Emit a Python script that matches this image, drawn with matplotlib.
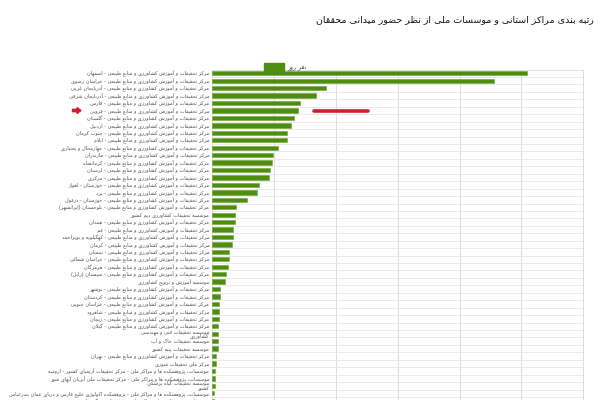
import matplotlib
matplotlib.use("Agg")
import matplotlib.pyplot as plt
from matplotlib.patches import Patch, FancyArrow

# ---------------------------------------------------------------- data
PREFIX = "مرکز تحقیقات و آموزش کشاورزی و منابع طبیعی - "
NATIONAL = "موسسات، پژوهشکده ها و مراکز ملی - "

centers = [
    PREFIX + "اصفهان",
    PREFIX + "خراسان رضوی",
    PREFIX + "آذربایجان غربی",
    PREFIX + "آذربایجان شرقی",
    PREFIX + "فارس",
    PREFIX + "قزوین",
    PREFIX + "گلستان",
    PREFIX + "اردبیل",
    PREFIX + "جنوب کرمان",
    PREFIX + "ایلام",
    PREFIX + "چهارمحال و بختیاری",
    PREFIX + "مازندران",
    PREFIX + "کرمانشاه",
    PREFIX + "لرستان",
    PREFIX + "مرکزی",
    PREFIX + "خوزستان - اهواز",
    PREFIX + "یزد",
    PREFIX + "خوزستان - دزفول",
    PREFIX + "بلوچستان (ایرانشهر)",
    "موسسه تحقیقات کشاورزی دیم کشور",
    PREFIX + "همدان",
    PREFIX + "قم",
    PREFIX + "کهگیلویه و بویراحمد",
    PREFIX + "کرمان",
    PREFIX + "سمنان",
    PREFIX + "خراسان شمالی",
    PREFIX + "هرمزگان",
    PREFIX + "سیستان (زابل)",
    "موسسه آموزش و ترویج کشاورزی",
    PREFIX + "بوشهر",
    PREFIX + "کردستان",
    PREFIX + "خراسان جنوبی",
    PREFIX + "شاهرود",
    PREFIX + "زنجان",
    PREFIX + "گیلان",
    "موسسه تحقیقات فنی و مهندسی\nکشاورزی",
    "موسسه تحقیقات خاک و آب",
    "موسسه تحقیقات پنبه کشور",
    PREFIX + "تهران",
    "مرکز ملی تحقیقات شوری",
    NATIONAL + "مرکز تحقیقات آرتمیای کشور - ارومیه",
    NATIONAL + "مرکز تحقیقات ملی آبزیان آبهای شور",
    "موسسه تحقیقات گیاه پزشکی\nکشور",
    NATIONAL + "پژوهشکده اکولوژی خلیج فارس و دریای عمان بندرعباس",
    NATIONAL + "پژوهشکده میگوی کشور - بوشهر",
]

person_days = [
    1018, 910, 368, 337, 283, 276, 264, 256, 243, 243,
    214, 195, 193, 187, 184, 150, 144, 112, 78, 74,
    72, 68, 66, 65, 55, 53, 52, 43, 41, 25,
    24, 21, 21, 21, 19, 19, 19, 17, 12, 11,
    10, 9, 8, 6, 4,
]

series_name = "نفر روز"
title = "رتبه بندی مراکز استانی و موسسات ملی از نظر حضور میدانی محققان"
highlight = PREFIX + "قزوین"

# ------------------------------------------------- Persian text shaping
# (isolated, final, initial, medial); right-joining letters have no
# initial/medial forms.
FORMS = {
    "\u0627": ("\uFE8D", "\uFE8E", None, None),
    "\u0622": ("\uFE81", "\uFE82", None, None),
    "\u0628": ("\uFE8F", "\uFE90", "\uFE91", "\uFE92"),
    "\u067E": ("\uFB56", "\uFB57", "\uFB58", "\uFB59"),
    "\u062A": ("\uFE95", "\uFE96", "\uFE97", "\uFE98"),
    "\u062B": ("\uFE99", "\uFE9A", "\uFE9B", "\uFE9C"),
    "\u062C": ("\uFE9D", "\uFE9E", "\uFE9F", "\uFEA0"),
    "\u0686": ("\uFB7A", "\uFB7B", "\uFB7C", "\uFB7D"),
    "\u062D": ("\uFEA1", "\uFEA2", "\uFEA3", "\uFEA4"),
    "\u062E": ("\uFEA5", "\uFEA6", "\uFEA7", "\uFEA8"),
    "\u062F": ("\uFEA9", "\uFEAA", None, None),
    "\u0630": ("\uFEAB", "\uFEAC", None, None),
    "\u0631": ("\uFEAD", "\uFEAE", None, None),
    "\u0632": ("\uFEAF", "\uFEB0", None, None),
    "\u0698": ("\uFB8A", "\uFB8B", None, None),
    "\u0633": ("\uFEB1", "\uFEB2", "\uFEB3", "\uFEB4"),
    "\u0634": ("\uFEB5", "\uFEB6", "\uFEB7", "\uFEB8"),
    "\u0635": ("\uFEB9", "\uFEBA", "\uFEBB", "\uFEBC"),
    "\u0636": ("\uFEBD", "\uFEBE", "\uFEBF", "\uFEC0"),
    "\u0637": ("\uFEC1", "\uFEC2", "\uFEC3", "\uFEC4"),
    "\u0638": ("\uFEC5", "\uFEC6", "\uFEC7", "\uFEC8"),
    "\u0639": ("\uFEC9", "\uFECA", "\uFECB", "\uFECC"),
    "\u063A": ("\uFECD", "\uFECE", "\uFECF", "\uFED0"),
    "\u0641": ("\uFED1", "\uFED2", "\uFED3", "\uFED4"),
    "\u0642": ("\uFED5", "\uFED6", "\uFED7", "\uFED8"),
    "\u06A9": ("\uFB8E", "\uFB8F", "\uFB90", "\uFB91"),
    "\u06AF": ("\uFB92", "\uFB93", "\uFB94", "\uFB95"),
    "\u0644": ("\uFEDD", "\uFEDE", "\uFEDF", "\uFEE0"),
    "\u0645": ("\uFEE1", "\uFEE2", "\uFEE3", "\uFEE4"),
    "\u0646": ("\uFEE5", "\uFEE6", "\uFEE7", "\uFEE8"),
    "\u0647": ("\uFEE9", "\uFEEA", "\uFEEB", "\uFEEC"),
    "\u0648": ("\uFEED", "\uFEEE", None, None),
    "\u06CC": ("\uFBFC", "\uFBFD", "\uFBFE", "\uFBFF"),
    "\u0626": ("\uFE89", "\uFE8A", "\uFE8B", "\uFE8C"),
}
LAM_ALEF = {"\u0627": ("\uFEFB", "\uFEFC"), "\u0622": ("\uFEF5", "\uFEF6")}
MIRROR = {"(": ")", ")": "("}


def _dual(ch):
    return ch in FORMS and FORMS[ch][2] is not None


def shape_line(text):
    out = []
    i, n = 0, len(text)
    while i < n:
        ch = text[i]
        prev = text[i - 1] if i > 0 else ""
        joins_prev = ch in FORMS and _dual(prev)
        if ch == "\u0644" and i + 1 < n and text[i + 1] in LAM_ALEF:
            iso, fin = LAM_ALEF[text[i + 1]]
            out.append(fin if joins_prev else iso)
            i += 2
            continue
        if ch in FORMS:
            nxt = text[i + 1] if i + 1 < n else ""
            joins_next = _dual(ch) and nxt in FORMS
            iso, fin, ini, med = FORMS[ch]
            if joins_prev and joins_next:
                out.append(med)
            elif joins_prev:
                out.append(fin)
            elif joins_next:
                out.append(ini)
            else:
                out.append(iso)
        else:
            out.append(MIRROR.get(ch, ch))
        i += 1
    return "".join(reversed(out))


def fa(text):
    return "\n".join(shape_line(line) for line in text.split("\n"))


# ---------------------------------------------------------------- plot
plt.rcParams["font.family"] = ["DejaVu Sans"]

fig = plt.figure(figsize=(6, 4), dpi=100)
W, H = 600.0, 400.0
n = len(centers)
row_px = 7.44
top_px, left_px, right_px = 69.6, 212.3, 583.3
ax_h = n * row_px
ax = fig.add_axes([left_px / W, 1 - (top_px + ax_h) / H,
                   (right_px - left_px) / W, ax_h / H])

green = "#4e8c12"
ypos = list(range(n))
ax.barh(ypos, person_days, height=0.58, color=green,
        edgecolor="#6aa632", linewidth=0.4, zorder=3)

ax.set_xlim(0, 1200)
ax.set_ylim(n - 0.5, -0.5)
ax.set_xticks(range(0, 1201, 200))
ax.set_yticks(ypos)
ax.set_yticklabels([fa(c) for c in centers], fontsize=3.6,
                   color="#505050", linespacing=0.8)
ax.set_yticks([y + 0.5 for y in ypos], minor=True)
ax.tick_params(axis="y", which="both", length=0, pad=2.2)
ax.tick_params(axis="x", length=0, labelbottom=False)
ax.grid(axis="x", which="major", color="#dedede", linewidth=0.7, zorder=0)
ax.grid(axis="y", which="minor", color="#e6e6e6", linewidth=0.6, zorder=0)
for s in ax.spines.values():
    s.set_color("#dedede")
    s.set_linewidth(0.7)

# legend
ax.legend(handles=[Patch(facecolor=green, edgecolor=green, label=fa(series_name))],
          loc="center", bbox_to_anchor=(285 / W, 1 - 67 / H),
          bbox_transform=fig.transFigure, frameon=False, fontsize=4.4,
          handlelength=3.3, handleheight=1.5, handletextpad=0.5,
          labelcolor="#404040")

# title
fig.text(594 / W, 1 - 20 / H, fa(title), ha="right", va="center",
         fontsize=6.8, color="#111111")

# highlight of one center: red bar in the plot and arrow at its label
hi = centers.index(highlight)
ax.plot([330, 502], [hi, hi], color="#cc1f2f", linewidth=2.6,
        solid_capstyle="round", zorder=4)
arrow_y = 1 - (top_px + (hi + 0.5) * row_px) / H
fig.patches.append(FancyArrow(72.5 / W, arrow_y, 8.5 / W, 0,
                              width=2.4 / H, head_width=6.0 / H,
                              head_length=4.0 / W, length_includes_head=True,
                              color="#cc1f2f", transform=fig.transFigure))

fig.savefig("out.png", dpi=100)
